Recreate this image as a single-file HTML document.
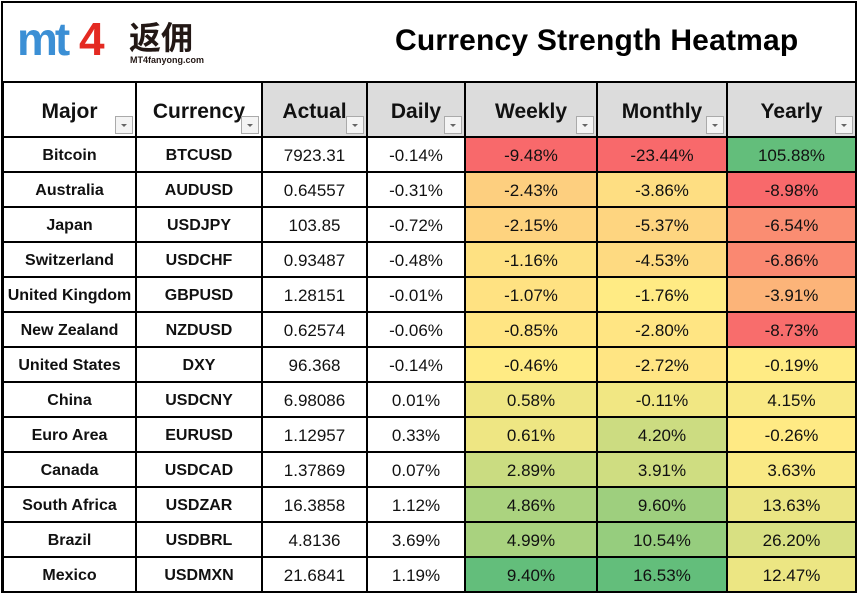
<!DOCTYPE html>
<html><head><meta charset="utf-8"><style>
body{margin:0;width:860px;height:593px;background:#fff;position:relative;overflow:hidden;font-family:"Liberation Sans",Arial,sans-serif}
#frame{position:absolute;left:1px;top:1px;width:852px;height:588px;border:2px solid #000;}
#title{position:absolute;left:395px;top:24px;font-size:30px;font-weight:bold;color:#000;letter-spacing:0.2px}
#logo{position:absolute;left:17px;top:14px;height:50px;width:200px}
.mt{position:absolute;top:0;font-weight:bold;font-size:46px;color:#3b8fd5;letter-spacing:-3px;font-family:"Liberation Sans",sans-serif;white-space:nowrap}
table{position:absolute;left:2px;top:81px;border-collapse:collapse;table-layout:fixed}
td{border:2px solid #000;height:33px;padding:2px 0 0 0;box-sizing:border-box;text-align:center;font-size:17px;color:#111;position:relative;white-space:nowrap}
tr td{height:35px}
tr.h td{height:55px;font-size:21px;font-weight:bold;background:#dcdcdc;padding-top:4px}
tr.h td.w{background:#fff}
td.b{font-weight:bold;font-size:16px}
.dd{position:absolute;right:2px;bottom:2px;width:16px;height:16px;border:1px solid #aaa;background:#f4f4f4}
.dd:after{content:"";position:absolute;left:5px;top:7px;border-left:3px solid transparent;border-right:3px solid transparent;border-top:3px solid #666}
</style></head><body>
<div id="frame"></div>
<div id="logo">
<span class="mt" style="left:0;top:-2px">mt</span><span class="mt" style="left:62px;top:-2px;color:#e42a22">4</span>
<span style="position:absolute;left:112px;top:6px;font-size:32px;font-weight:bold;font-family:'Noto Sans CJK SC',sans-serif;color:#231815;line-height:1;white-space:nowrap">返佣</span>
<span style="position:absolute;left:113px;top:41px;font-size:9px;font-weight:bold;color:#231815;white-space:nowrap">MT4fanyong.com</span>
</div>
<div id="title">Currency Strength Heatmap</div>
<table>
<colgroup><col style="width:133px"><col style="width:126px"><col style="width:105px"><col style="width:98px"><col style="width:132px"><col style="width:130px"><col style="width:129px"></colgroup>
<tr class="h"><td class="w">Major<div class="dd"></div></td><td class="w">Currency<div class="dd"></div></td><td>Actual<div class="dd"></div></td><td>Daily<div class="dd"></div></td><td>Weekly<div class="dd"></div></td><td>Monthly<div class="dd"></div></td><td>Yearly<div class="dd"></div></td></tr>
<tr><td class="b">Bitcoin</td><td class="b">BTCUSD</td><td>7923.31</td><td>-0.14%</td><td class="c0">-9.48%</td><td class="c1">-23.44%</td><td class="c2">105.88%</td></tr>
<tr><td class="b">Australia</td><td class="b">AUDUSD</td><td>0.64557</td><td>-0.31%</td><td class="c0">-2.43%</td><td class="c1">-3.86%</td><td class="c2">-8.98%</td></tr>
<tr><td class="b">Japan</td><td class="b">USDJPY</td><td>103.85</td><td>-0.72%</td><td class="c0">-2.15%</td><td class="c1">-5.37%</td><td class="c2">-6.54%</td></tr>
<tr><td class="b">Switzerland</td><td class="b">USDCHF</td><td>0.93487</td><td>-0.48%</td><td class="c0">-1.16%</td><td class="c1">-4.53%</td><td class="c2">-6.86%</td></tr>
<tr><td class="b">United Kingdom</td><td class="b">GBPUSD</td><td>1.28151</td><td>-0.01%</td><td class="c0">-1.07%</td><td class="c1">-1.76%</td><td class="c2">-3.91%</td></tr>
<tr><td class="b">New Zealand</td><td class="b">NZDUSD</td><td>0.62574</td><td>-0.06%</td><td class="c0">-0.85%</td><td class="c1">-2.80%</td><td class="c2">-8.73%</td></tr>
<tr><td class="b">United States</td><td class="b">DXY</td><td>96.368</td><td>-0.14%</td><td class="c0">-0.46%</td><td class="c1">-2.72%</td><td class="c2">-0.19%</td></tr>
<tr><td class="b">China</td><td class="b">USDCNY</td><td>6.98086</td><td>0.01%</td><td class="c0">0.58%</td><td class="c1">-0.11%</td><td class="c2">4.15%</td></tr>
<tr><td class="b">Euro Area</td><td class="b">EURUSD</td><td>1.12957</td><td>0.33%</td><td class="c0">0.61%</td><td class="c1">4.20%</td><td class="c2">-0.26%</td></tr>
<tr><td class="b">Canada</td><td class="b">USDCAD</td><td>1.37869</td><td>0.07%</td><td class="c0">2.89%</td><td class="c1">3.91%</td><td class="c2">3.63%</td></tr>
<tr><td class="b">South Africa</td><td class="b">USDZAR</td><td>16.3858</td><td>1.12%</td><td class="c0">4.86%</td><td class="c1">9.60%</td><td class="c2">13.63%</td></tr>
<tr><td class="b">Brazil</td><td class="b">USDBRL</td><td>4.8136</td><td>3.69%</td><td class="c0">4.99%</td><td class="c1">10.54%</td><td class="c2">26.20%</td></tr>
<tr><td class="b">Mexico</td><td class="b">USDMXN</td><td>21.6841</td><td>1.19%</td><td class="c0">9.40%</td><td class="c1">16.53%</td><td class="c2">12.47%</td></tr>
</table>
<script>
var R=[248,105,107],Y=[255,235,132],G=[99,190,123];
function mix(a,b,t){return 'rgb('+a.map(function(v,i){return Math.round(v+(b[i]-v)*t)}).join(',')+')'}
['c0','c1','c2'].forEach(function(c){
 var els=[].slice.call(document.getElementsByClassName(c));
 var v=els.map(function(e){return parseFloat(e.textContent)});
 var s=v.slice().sort(function(a,b){return a-b});
 var mn=s[0],mx=s[s.length-1],md=s[6];
 els.forEach(function(e,i){var x=v[i];
  e.style.background=x<=md?mix(R,Y,(x-mn)/(md-mn)):mix(Y,G,(x-md)/(mx-md));});
});
</script>
</body></html>
